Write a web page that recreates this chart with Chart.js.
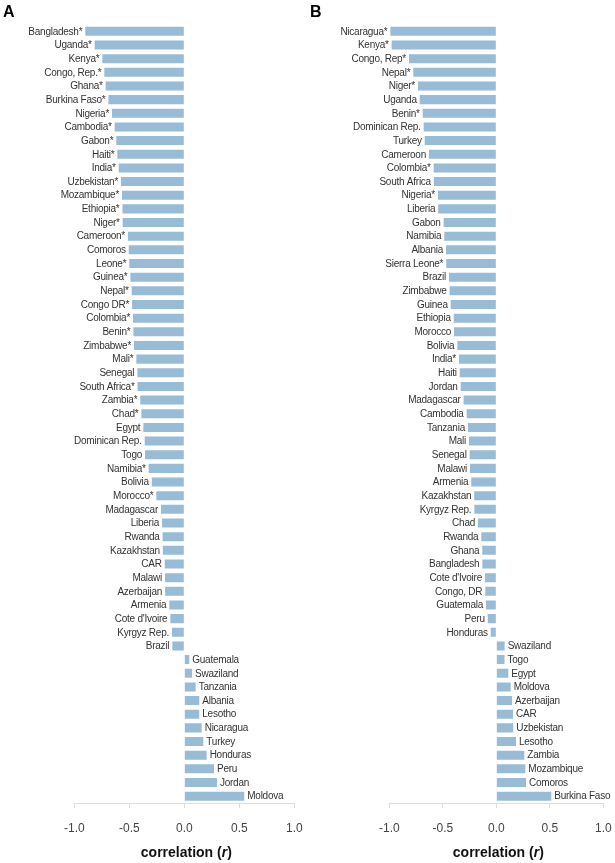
<!DOCTYPE html>
<html>
<head>
<meta charset="utf-8">
<script src="https://cdn.jsdelivr.net/npm/chart.js@4/dist/chart.umd.min.js"></script>
<style>
  html, body { margin: 0; padding: 0; background: #ffffff; }
  body { width: 615px; height: 863px; position: relative; overflow: hidden; font-family: "Liberation Sans", Arial, sans-serif; }
  canvas { position: absolute; top: 0; }
  .panel { position: absolute; top: 4px; font: bold 16px/16px "Liberation Sans", Arial, sans-serif; color: #000; z-index: 5; }
</style>
</head>
<body>
<div class="panel" style="left:3px">A</div>
<div class="panel" style="left:310px">B</div>
<canvas id="chartA" width="335" height="863" style="left:0px"></canvas>
<canvas id="chartB" width="335" height="863" style="left:307px"></canvas>
<script>
// ---- Data ----
const categoriesA = ["Bangladesh*","Uganda*","Kenya*","Congo, Rep.*","Ghana*","Burkina Faso*","Nigeria*","Cambodia*","Gabon*","Haiti*","India*","Uzbekistan*","Mozambique*","Ethiopia*","Niger*","Cameroon*","Comoros","Leone*","Guinea*","Nepal*","Congo DR*","Colombia*","Benin*","Zimbabwe*","Mali*","Senegal","South Africa*","Zambia*","Chad*","Egypt","Dominican Rep.","Togo","Namibia*","Bolivia","Morocco*","Madagascar","Liberia","Rwanda","Kazakhstan","CAR","Malawi","Azerbaijan","Armenia","Cote d'Ivoire","Kyrgyz Rep.","Brazil","Guatemala","Swaziland","Tanzania","Albania","Lesotho","Nicaragua","Turkey","Honduras","Peru","Jordan","Moldova"];
const valuesA = [-0.90,-0.815,-0.745,-0.727,-0.715,-0.69,-0.657,-0.633,-0.618,-0.609,-0.596,-0.575,-0.566,-0.562,-0.56,-0.512,-0.505,-0.50,-0.49,-0.478,-0.475,-0.466,-0.463,-0.457,-0.436,-0.427,-0.425,-0.40,-0.39,-0.372,-0.36,-0.357,-0.324,-0.296,-0.254,-0.212,-0.203,-0.197,-0.195,-0.178,-0.175,-0.174,-0.136,-0.127,-0.112,-0.109,0.045,0.07,0.103,0.136,0.136,0.158,0.173,0.203,0.27,0.297,0.545];

const categoriesB = ["Nicaragua*","Kenya*","Congo, Rep*","Nepal*","Niger*","Uganda","Benin*","Dominican Rep.","Turkey","Cameroon","Colombia*","South Africa","Nigeria*","Liberia","Gabon","Namibia","Albania","Sierra Leone*","Brazil","Zimbabwe","Guinea","Ethiopia","Morocco","Bolivia","India*","Haiti","Jordan","Madagascar","Cambodia","Tanzania","Mali","Senegal","Malawi","Armenia","Kazakhstan","Kyrgyz Rep.","Chad","Rwanda","Ghana","Bangladesh","Cote d'Ivoire","Congo, DR","Guatemala","Peru","Honduras","Swaziland","Togo","Egypt","Moldova","Azerbaijan","CAR","Uzbekistan","Lesotho","Zambia","Mozambique","Comoros","Burkina Faso"];
const valuesB = [-0.99,-0.978,-0.816,-0.776,-0.732,-0.716,-0.688,-0.679,-0.669,-0.629,-0.585,-0.583,-0.545,-0.543,-0.492,-0.486,-0.47,-0.468,-0.442,-0.436,-0.426,-0.398,-0.395,-0.364,-0.349,-0.342,-0.333,-0.305,-0.277,-0.265,-0.255,-0.249,-0.246,-0.234,-0.206,-0.205,-0.171,-0.14,-0.131,-0.13,-0.106,-0.103,-0.096,-0.08,-0.052,0.078,0.077,0.112,0.134,0.147,0.156,0.158,0.184,0.262,0.271,0.278,0.514];

const tickValues = [-1.0, -0.5, 0.0, 0.5, 1.0];
const axisTitle = ["correlation (", "r", ")"];

// ---- Styles ----
const FONT = '"Liberation Sans", Arial, sans-serif';
const BAR = 'rgb(152,187,214)';

const barLabelPlugin = {
  id: 'barLabels',
  afterDatasetsDraw(chart) {
    const ctx = chart.ctx;
    const meta = chart.getDatasetMeta(0);
    const labels = chart.data.labels;
    const vals = chart.data.datasets[0].data;
    ctx.save();
    ctx.font = '10px ' + FONT;
    if ('letterSpacing' in ctx) ctx.letterSpacing = '-0.25px';
    ctx.fillStyle = '#333333';
    ctx.textBaseline = 'middle';
    meta.data.forEach((el, i) => {
      const v = vals[i];
      if (v < 0) { ctx.textAlign = 'right'; ctx.fillText(labels[i], el.x - 3, el.y + 0.5); }
      else { ctx.textAlign = 'left'; ctx.fillText(labels[i], el.x + 3, el.y + 0.5); }
    });
    ctx.restore();
  }
};

const axisTitlePlugin = {
  id: 'axisTitle',
  afterDraw(chart) {
    const ctx = chart.ctx;
    const sx = chart.scales.x;
    const cx = sx.getPixelForValue(0) + 2;
    const y = 853;
    ctx.save();
    ctx.fillStyle = '#111111';
    ctx.textBaseline = 'middle';
    ctx.textAlign = 'left';
    const fonts = ['bold 14px ' + FONT, 'italic bold 14px ' + FONT, 'bold 14px ' + FONT];
    const widths = axisTitle.map((t, i) => { ctx.font = fonts[i]; return ctx.measureText(t).width; });
    const total = widths.reduce((a, b) => a + b, 0);
    let x = cx - total / 2;
    axisTitle.forEach((t, i) => { ctx.font = fonts[i]; ctx.fillText(t, x, y); x += widths[i]; });
    ctx.restore();
  }
};

function makeChart(id, cats, vals, padLeft, padRight) {
  return new Chart(document.getElementById(id), {
    type: 'bar',
    data: {
      labels: cats,
      datasets: [{
        data: vals,
        backgroundColor: BAR,
        borderWidth: 0,
        barPercentage: 0.66,
        categoryPercentage: 1.0
      }]
    },
    options: {
      indexAxis: 'y',
      responsive: false,
      animation: false,
      devicePixelRatio: 1,
      layout: { padding: { left: padLeft, right: padRight, top: 24.5, bottom: 14.6 } },
      plugins: { legend: { display: false }, tooltip: { enabled: false }, title: { display: false } },
      scales: {
        y: { display: false },
        x: {
          type: 'linear',
          min: tickValues[0],
          max: tickValues[tickValues.length - 1],
          afterBuildTicks: (scale) => { scale.ticks = tickValues.map(v => ({ value: v })); },
          ticks: {
            callback: (v) => Number(v).toFixed(1),
            font: { size: 12, family: FONT },
            color: '#444444',
            padding: 13,
            maxRotation: 0
          },
          grid: { display: true, drawOnChartArea: false, drawTicks: true, tickLength: 5, color: '#dddddd', lineWidth: 1 },
          border: { display: true, color: '#dddddd', width: 1 }
        }
      }
    },
    plugins: [barLabelPlugin, axisTitlePlugin]
  });
}

// canvas A spans x 0..335, canvas B spans x 307..642 (overflow hidden)
makeChart('chartA', categoriesA, valuesA, 74.3, 335 - 294.3);
makeChart('chartB', categoriesB, valuesB, 389.3 - 307, 335 - (603.3 - 307));
</script>
</body>
</html>
